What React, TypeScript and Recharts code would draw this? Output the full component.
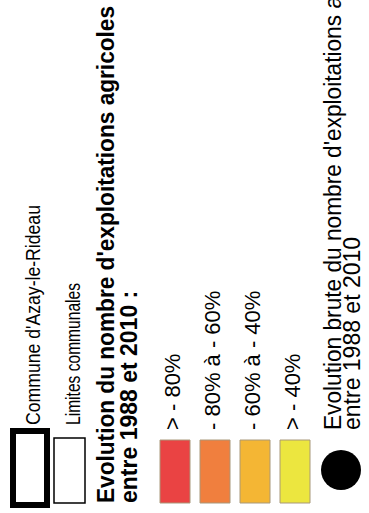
import React from 'react';
import { Surface, Layer, Rectangle, Dot, Text } from 'recharts';

const boundaryLabels = ["Commune d'Azay-le-Rideau", 'Limites communales'];
const titleLines = ["Evolution du nombre d'exploitations agricoles", 'entre 1988 et 2010 :'];
const classLabels = ['> - 80%', '- 80% à - 60%', '- 60% à - 40%', '> - 40%'];
const classColors = ['#ea4343', '#f07f3e', '#f4b634', '#ece63f'];
const symbolLines = ["Evolution brute du nombre d'exploitations agricoles", 'entre 1988 et 2010'];

const W = 369;
const H = 513;
const FONT = 'Liberation Sans, Arial, sans-serif';
// lengths along the text direction for the narrow boundary labels
const boundaryLen = [220, 142];
const boundaryBase = [40, 80];

export default function App() {
  return (
    <div style={{ position: 'absolute', left: 0, top: 0, width: W, height: H, background: '#fff' }}>
      <Surface width={W} height={H} viewBox={{ x: 0, y: 0, width: W, height: H }}>
        <Layer transform={`translate(0, ${H}) rotate(-90)`}>
          <Rectangle x={8} y={13} width={74} height={34} fill="#fff" stroke="#000" strokeWidth={6} />
          <Rectangle x={10} y={54} width={65} height={31} fill="#fff" stroke="#000" strokeWidth={1.5} />
          {boundaryLabels.map((t, i) => (
            <Text key={t} x={88} y={boundaryBase[i]} textAnchor="start" verticalAnchor="end"
              fontFamily={FONT} fontSize={21} fill="#000"
              textLength={boundaryLen[i]} lengthAdjust="spacingAndGlyphs">{t}</Text>
          ))}
          {titleLines.map((t, i) => (
            <Text key={t} x={10} y={114 + i * 23} textAnchor="start" verticalAnchor="end"
              fontFamily={FONT} fontSize={23} fontWeight="bold" fill="#000"
              {...(i === 0 ? { textLength: 497, lengthAdjust: 'spacingAndGlyphs' } : {})}>{t}</Text>
          ))}
          {classLabels.map((t, i) => (
            <React.Fragment key={t}>
              <Rectangle x={10} y={160 + i * 40} width={63} height={30} fill={classColors[i]}
                stroke="#a8987a" strokeWidth={1} />
              <Text x={83} y={180 + i * 40} textAnchor="start" verticalAnchor="end"
                fontFamily={FONT} fontSize={22} fill="#000">{t}</Text>
            </React.Fragment>
          ))}
          <Dot cx={43} cy={341} r={20} fill="#000" />
          {symbolLines.map((t, i) => (
            <Text key={t} x={83} y={341 + i * 19} textAnchor="start" verticalAnchor="end"
              fontFamily={FONT} fontSize={23} fill="#000"
              {...(i === 0 ? { textLength: 512, lengthAdjust: 'spacingAndGlyphs' } : {})}>{t}</Text>
          ))}
        </Layer>
      </Surface>
    </div>
  );
}
